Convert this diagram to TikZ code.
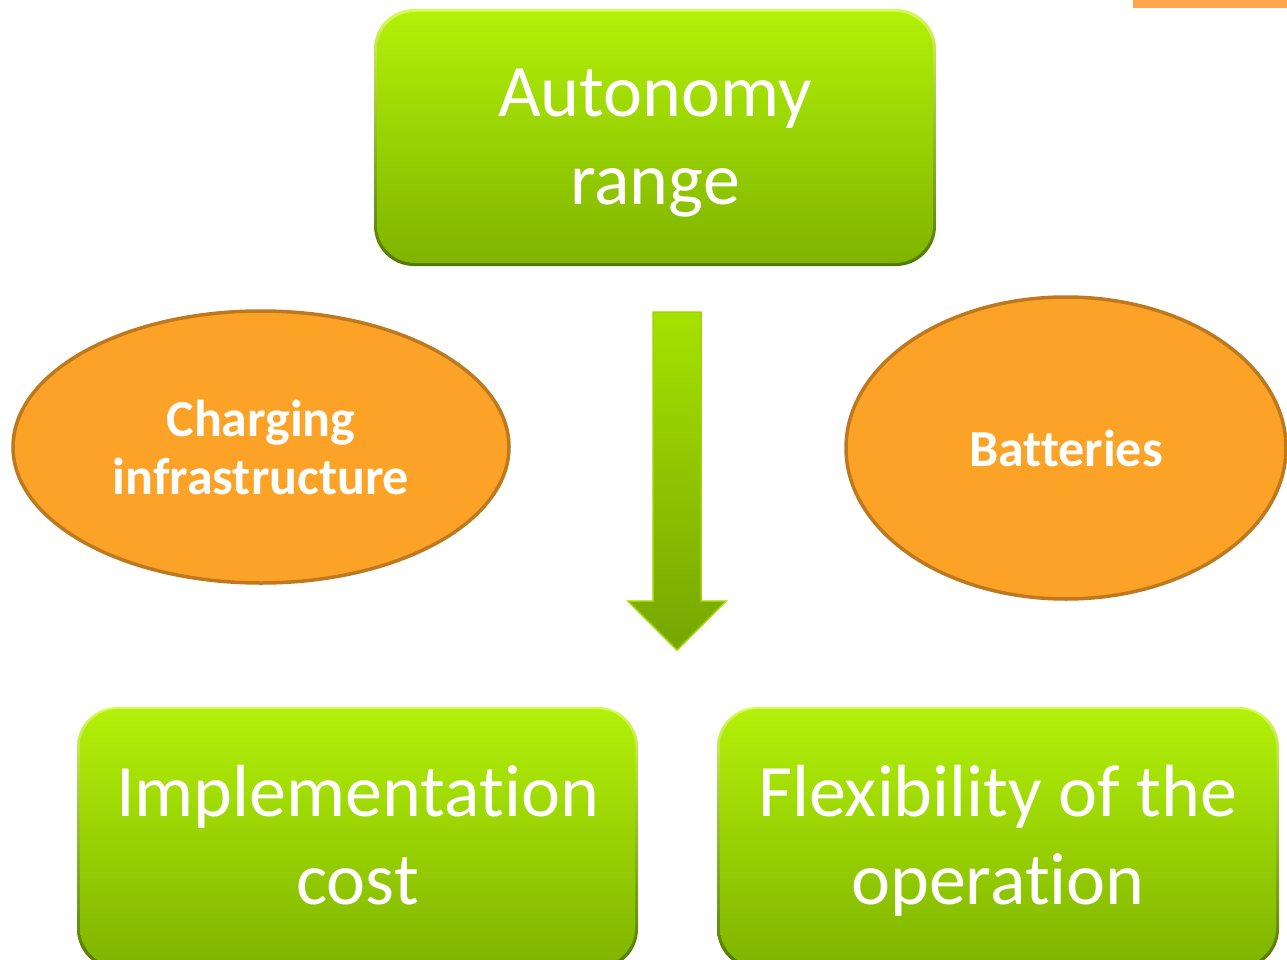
\documentclass[tikz,border=0pt]{standalone}
\usepackage{fontspec}
\setmainfont[Ligatures=NoCommon]{Carlito}
\usetikzlibrary{shapes.geometric}
\definecolor{gtop}{RGB}{178,240,8}
\definecolor{gbot}{RGB}{128,180,0}
\definecolor{rimtop}{RGB}{215,250,90}
\definecolor{rimbot}{RGB}{80,120,0}
\definecolor{ofill}{RGB}{252,162,38}
\definecolor{oline}{RGB}{190,120,30}
\definecolor{atop}{RGB}{165,226,0}
\definecolor{abot}{RGB}{118,166,0}
\definecolor{aline}{RGB}{160,212,0}
\definecolor{obar}{RGB}{255,166,77}
\newcommand{\gtxt}[1]{\raisebox{-5pt}[\height][\depth]{\begin{tabular}{@{}c@{}}#1\end{tabular}}}
\tikzset{
  gbox/.style={rectangle, rounded corners=38pt, top color=gtop, bottom color=gbot,
    text=white, inner sep=0pt,
    font=\fontsize{74}{88}\selectfont},
  obox/.style={ellipse, fill=ofill, draw=oline, line width=3.5pt, text=white,
    align=center, inner sep=0pt, font=\bfseries\fontsize{52}{58}\selectfont},
  rim/.style={top color=rimtop, bottom color=rimbot, rounded corners=40pt},
}
\begin{document}
\begin{tikzpicture}[x=1pt,y=-1pt]
\useasboundingbox (0,0) rectangle (1287,960);
\begin{scope}
\clip (0,0) rectangle (1287,960);
% orange bar top right
\fill[obar] (1133,0) rectangle (1287,8);
% rims of the green boxes
\shade[rim] (374,9) rectangle (936,266);
\shade[rim] (77,707) rectangle (638,969);
\shade[rim] (717,707) rectangle (1279,969);
% green boxes
\node[gbox, minimum width=556pt, minimum height=251pt] (aut) at (655,137.5) {\gtxt{Autonomy\\range}};
\node[gbox, minimum width=555pt, minimum height=257pt] (imp) at (357.5,837.5) {\gtxt{Implementation\\cost}};
\node[gbox, minimum width=556pt, minimum height=257pt] (flex) at (998,837.5) {\gtxt{Flexibility of the\\operation}};
% ellipses
\node[obox, minimum width=496pt, minimum height=272pt] (chg) at (261,447) {Charging\\infrastructure};
\node[obox, minimum width=440pt, minimum height=302pt] (bat) at (1066,448) {Batteries};
% block arrow
\coordinate (atip) at (677,650);
\shade[top color=atop, bottom color=abot, draw=aline, line width=1.5pt]
  (653,312) -- (701,312) -- (701,601) -- (726,601) -- (atip) -- (628,601) -- (653,601) -- cycle;
\end{scope}
\end{tikzpicture}
\end{document}
